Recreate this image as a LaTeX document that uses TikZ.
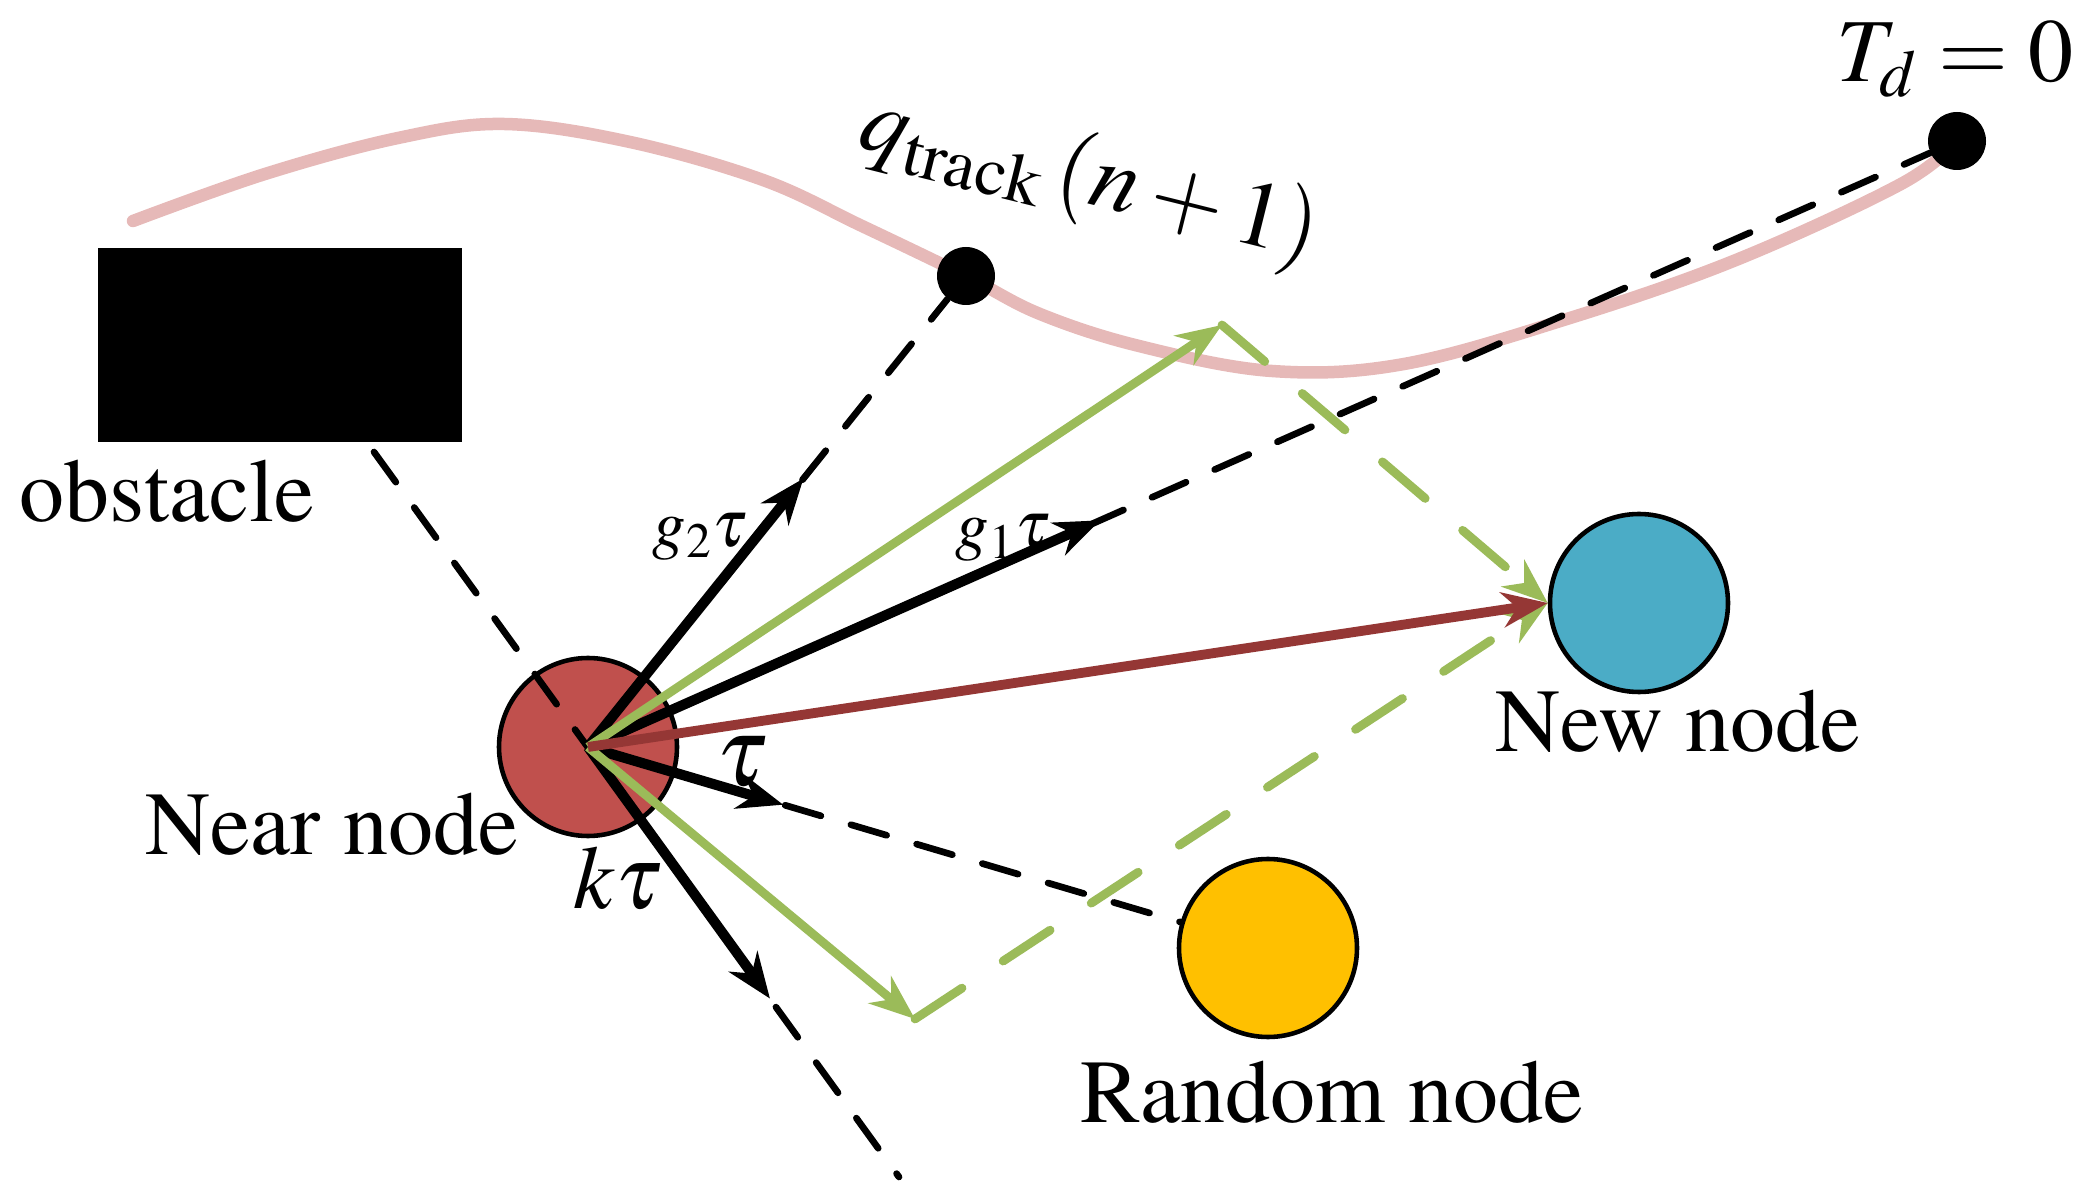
\documentclass[tikz,border=0pt]{standalone}
\usepackage[T1]{fontenc}
\usepackage{mathptmx}
\usetikzlibrary{positioning}
\usetikzlibrary{calc}
\usetikzlibrary{arrows.meta}

\definecolor{nearred}{HTML}{C0504D}
\definecolor{newblue}{HTML}{4BACC6}
\definecolor{randyellow}{HTML}{FFC000}
\definecolor{stepgreen}{HTML}{9BBB59}
\definecolor{growred}{HTML}{953735}
\definecolor{trackpink}{HTML}{E6B9B8}

\begin{document}
\begin{tikzpicture} [x=0.1mm, y=-0.1mm,
          tree node/.style = {circle, draw, line width=1.3pt, minimum size=17.8mm, inner sep=0pt},
          dot/.style = {circle, fill=black, minimum size=5.8mm, inner sep=0pt},
          track/.style = {draw=trackpink, line width=1.25mm, line cap=round},
          dash line/.style = {line width=1.9pt, line cap=round, dash pattern=on 10.6pt off 8.9pt},
          black arrow/.style = {line width=2.9pt, -{Stealth[length=13pt, width=10pt]}},
          green arrow/.style = {draw=stepgreen, line width=2.5pt, -{Stealth[length=13pt, width=10pt]}},
          green dash/.style = {green arrow, line cap=round, dash pattern=on 16pt off 14pt},
          grow arrow/.style = {draw=growred, line width=2.8pt, -{Stealth[length=13pt, width=10pt]}},
          label text/.style = {font=\fontsize{25.6}{30}\selectfont, inner sep=0pt},
          small label/.style = {font=\fontsize{19}{22}\selectfont, inner sep=0pt}
          ]
          \useasboundingbox (0,0) rectangle (2079,1189);

          % reference track
          \draw[track] plot[smooth, tension=0.6] coordinates {(133,221) (265,174) (398,138) (504,124)
            (630,142) (763,180) (862,226) (966,276) (1040,314) (1139,346) (1272,371) (1404,364)
            (1570,318) (1736,260) (1901,184) (1957,141)};

          \node[fill=black, minimum width=36.4mm, minimum height=19.4mm, inner sep=0pt] (obstacle) at (280,345) {};
          \node[dot] (qdot) at (966,276) {};
          \node[dot] (tddot) at (1957,141) {};
          \node[tree node, fill=nearred] (near) at (588,747) {};
          \node[tree node, fill=newblue] (new) at (1639,603) {};
          \node[tree node, fill=randyellow] (rand) at (1268,948) {};

          \coordinate (kstart) at (374,452);
          \coordinate (kend) at (899,1177);
          \coordinate (gup) at (1222,325);
          \coordinate (gdown) at (915,1019);

          % guide lines
          \draw[dash line] (kstart) -- (kend);
          \draw[dash line] (near.center) -- (qdot);
          \draw[dash line] (near.center) -- (tddot);
          \draw[dash line] (near.center) -- (rand);

          % steps
          \draw[black arrow] (near.center) -- ($(near.center)!0.57!(qdot)$);
          \draw[black arrow] (near.center) -- ($(near.center)!0.374!(tddot)$);
          \draw[black arrow] (near.center) -- ($(near.center)!0.287!(rand)$);
          \draw[black arrow] (near.center) -- ($(near.center)!0.585!(kend)$);
          \draw[green arrow] (near.center) -- (gup);
          \draw[green dash] (gup) -- (new.west);
          \draw[green arrow] (near.center) -- (gdown);
          \draw[green dash] (gdown) -- (new.west);
          \draw[grow arrow] (near.center) -- (new.west);

          % labels
          \node[label text, anchor=base] (obslabel) at (167,522) {obstacle};
          \node[label text, anchor=base] (nearlabel) at (332,855) {Near node};
          \node[label text, anchor=base] (newlabel) at (1678,752) {New node};
          \node[label text, anchor=base] (randlabel) at (1332,1122) {Random node};
          \node[label text, font=\fontsize{27}{32}\selectfont, rotate=-14] (qlabel) at (1090,180) {$q_{\mathrm{track}}\,(n+1)$};
          \node[label text, anchor=base] (tdlabel) at (1955,82) {$T_d=0$};
          \node[small label, anchor=base] (gtwolabel) at (700,547) {$g_2\tau$};
          \node[small label, anchor=base] (gonelabel) at (1003,548) {$g_1\tau$};
          \node[label text, font=\fontsize{28}{32}\selectfont] (taulabel) at (742,762) {$\tau$};
          \node[label text] (klabel) at (618,878) {$k\tau$};
        \end{tikzpicture}
\end{document}
